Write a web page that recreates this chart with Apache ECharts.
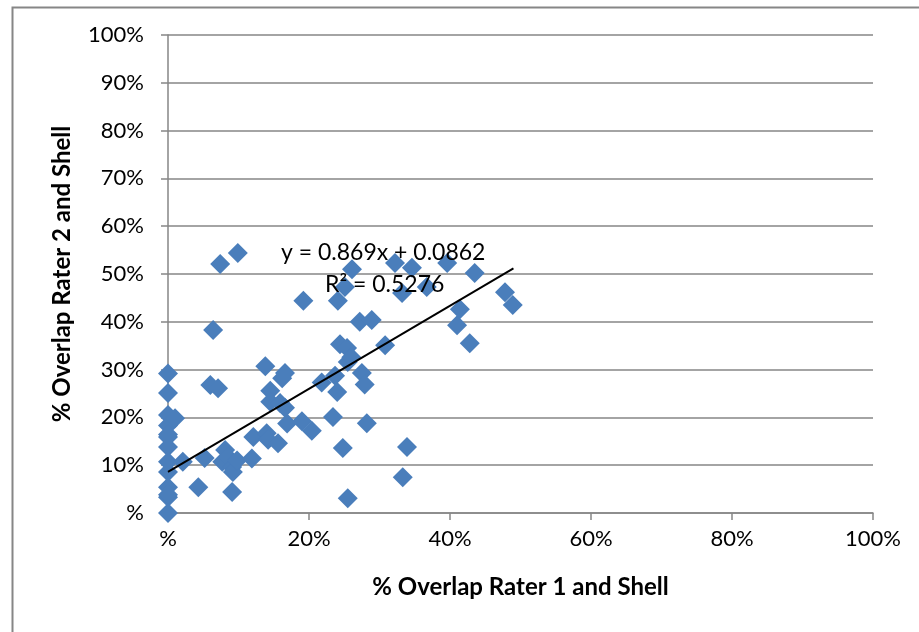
<!DOCTYPE html>
<html>
<head>
<meta charset="utf-8">
<script src="https://cdn.jsdelivr.net/npm/echarts@6/dist/echarts.min.js"></script>
<style>html,body{margin:0;padding:0;background:#fff;}#c{width:919px;height:632px;}</style>
</head>
<body>
<div id="c"></div>
<script>
// Overlap Rater 1 and Shell (x, %)
const xValues = [0,0,0,0,0,0,0,0,0,0,0,0,0,
  1.0,2.1,4.3,5.2,6.0,7.1,6.4,7.4,9.9,
  7.7,8.1,8.5,9.1,9.2,9.1,9.8,
  11.9,12.1,13.8,14.0,14.2,14.5,14.5,15.6,15.9,16.2,16.6,16.6,16.9,
  19.0,19.2,20.4,21.8,23.4,23.7,24.0,24.1,24.4,24.8,25.1,25.4,25.5,25.5,26.1,26.0,27.2,27.5,27.9,28.2,28.9,30.8,
  32.2,33.2,33.3,33.9,34.6,36.7,39.6,41.0,41.4,42.8,43.5,47.8,48.9];
// Overlap Rater 2 and Shell (y, %)
const yValues = [29.2,25.1,20.5,18.3,16.4,15.9,13.8,10.7,8.6,5.4,3.3,3.8,0,
  19.8,10.7,5.4,11.5,26.8,26.1,38.3,52.1,54.4,
  10.7,13.2,11.7,9.6,8.6,4.4,11.0,
  11.4,15.9,30.7,16.7,15.3,25.6,23.3,14.6,23.0,28.2,29.3,22.0,18.7,
  19.2,44.4,17.2,27.3,20.1,28.7,25.3,44.4,35.3,13.6,47.3,34.5,31.6,3.1,51.0,32.6,40.0,29.3,26.9,18.8,40.4,35.1,
  52.3,46.0,7.5,13.8,51.3,47.3,52.3,39.3,42.6,35.5,50.2,46.2,43.5];
// Linear trendline end points (x %, y %)
const trendX = [0, 49];
const trendY = [8.62, 51.2];
const equationText = 'y = 0.869x + 0.0862';
const r2Text = 'R² = 0.5276';
const xTicks = [0, 20, 40, 60, 80, 100];
const yTicks = [0,10,20,30,40,50,60,70,80,90,100];

const pts = xValues.map((x, i) => [x, yValues[i]]);
const trend = trendX.map((x, i) => [x, trendY[i]]);
const fmt = v => (v === 0 ? '%' : v + '%');
const FONT = 'Lato';

const chart = echarts.init(document.getElementById('c'));
chart.setOption({
  animation: false,
  backgroundColor: '#fff',
  grid: { left: 168, right: 46, top: 35, bottom: 119, containLabel: false },
  xAxis: {
    type: 'value', min: 0, max: 100, interval: 20,
    name: '% Overlap Rater 1 and Shell', nameLocation: 'middle', nameGap: 62,
    nameTextStyle: { fontFamily: FONT, fontWeight: 'bold', fontSize: 24, color: '#000' },
    axisLine: { show: true, lineStyle: { color: '#868686', width: 1.5 } },
    axisTick: { show: true, length: 7, lineStyle: { color: '#868686', width: 1.5 } },
    splitLine: { show: false },
    axisLabel: { margin: 15, fontFamily: FONT, fontSize: 22, color: '#000', formatter: fmt }
  },
  yAxis: {
    type: 'value', min: 0, max: 100, interval: 10,
    name: '% Overlap Rater 2 and Shell', nameLocation: 'middle', nameGap: 94, nameRotate: 90,
    nameTextStyle: { fontFamily: FONT, fontWeight: 'bold', fontSize: 24, color: '#000' },
    axisLine: { show: true, lineStyle: { color: '#868686', width: 1.5 } },
    axisTick: { show: true, length: 7, lineStyle: { color: '#868686', width: 1.5 } },
    splitLine: { show: true, lineStyle: { color: '#868686', width: 1.5 } },
    axisLabel: { margin: 24, fontFamily: FONT, fontSize: 22, color: '#000', formatter: fmt }
  },
  graphic: [
    { type: 'rect', left: 10, top: 5, shape: { width: 1200, height: 1200 }, style: { fill: 'none', stroke: '#868686', lineWidth: 2 }, silent: true, z: -1 },
    { type: 'text', left: 281, top: 241, style: { text: equationText, font: '23px ' + FONT, fill: '#000' }, z: 10 },
    { type: 'text', left: 325, top: 273, style: { text: r2Text, font: '23px ' + FONT, fill: '#000' }, z: 10 }
  ],
  series: [
    {
      type: 'scatter', data: pts, symbol: 'diamond', symbolSize: 20,
      itemStyle: { color: '#4A7EBB', opacity: 1 }, z: 2
    },
    {
      type: 'line', data: trend, showSymbol: false, symbol: 'none',
      lineStyle: { color: '#000', width: 2 }, z: 3
    }
  ]
});
</script>
</body>
</html>
